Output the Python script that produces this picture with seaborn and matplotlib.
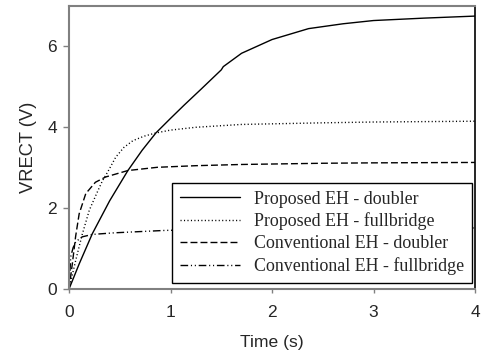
import pandas as pd
import matplotlib
matplotlib.use("Agg")
import matplotlib.pyplot as plt
import seaborn as sns

# Series labels (legend order)
labels = [
    "Proposed EH - doubler",
    "Proposed EH - fullbridge",
    "Conventional EH - doubler",
    "Conventional EH - fullbridge",
]

# Values (time in s, voltage in V)
t_prop_dbl = [0, 0.1, 0.23, 0.4, 0.58, 0.72, 0.856, 1.0, 1.135, 1.3, 1.5, 1.52, 1.7, 2.0, 2.36, 2.7, 3.0, 3.5, 4.0]
v_prop_dbl = [0, 0.62, 1.37, 2.18, 2.93, 3.43, 3.86, 4.22, 4.55, 4.94, 5.42, 5.5, 5.83, 6.17, 6.44, 6.56, 6.64, 6.7, 6.75]

t_prop_fb = [0, 0.066, 0.13, 0.2, 0.27, 0.33, 0.38, 0.46, 0.54, 0.63, 0.74, 0.856, 1.0, 1.25, 1.7, 2.5, 3.0, 4.0]
v_prop_fb = [0, 0.71, 1.35, 1.95, 2.35, 2.68, 2.89, 3.26, 3.5, 3.67, 3.78, 3.86, 3.93, 4.0, 4.07, 4.11, 4.13, 4.15]

t_conv_dbl = [0, 0.033, 0.065, 0.1, 0.165, 0.26, 0.36, 0.58, 0.87, 1.25, 1.7, 2.5, 3.0, 4.0]
v_conv_dbl = [0, 0.63, 1.3, 1.86, 2.36, 2.64, 2.77, 2.93, 3.01, 3.05, 3.08, 3.11, 3.12, 3.13]

t_conv_fb = [0, 0.017, 0.04, 0.066, 0.13, 0.23, 0.45, 0.7, 0.955, 1.5, 2.0, 3.0, 4.0]
v_conv_fb = [0, 0.8, 1.02, 1.17, 1.29, 1.35, 1.39, 1.42, 1.45, 1.47, 1.48, 1.5, 1.51]

frames = []
for name, t, v in zip(labels,
                      [t_prop_dbl, t_prop_fb, t_conv_dbl, t_conv_fb],
                      [v_prop_dbl, v_prop_fb, v_conv_dbl, v_conv_fb]):
    frames.append(pd.DataFrame({"time": t, "vrect": v, "series": name}))
df = pd.concat(frames, ignore_index=True)

dashes = {
    labels[0]: "",
    labels[1]: (0.8, 1.7),
    labels[2]: (5, 2.2),
    labels[3]: (5.5, 2, 0.8, 2, 0.8, 2),
}

sns.set_style("ticks")
plt.rcParams["font.family"] = ["Liberation Sans", "DejaVu Sans"]

fig = plt.figure(figsize=(4.82, 3.56), dpi=100)
ax = fig.add_axes([0.1432, 0.1882, 0.8423, 0.795])

sns.lineplot(data=df, x="time", y="vrect", style="series", style_order=labels,
             dashes=dashes, color="black", linewidth=1.0, estimator=None,
             sort=False, ax=ax)

ax.set_xlim(0, 4)
ax.set_ylim(0, 7)
ax.set_xticks([0, 1, 2, 3, 4])
ax.set_yticks([0, 2, 4, 6])
ax.set_xlabel("Time (s)", fontsize=12.6, labelpad=10.5)
ax.set_ylabel("VRECT (V)", fontsize=13.2, labelpad=7.5)
ax.tick_params(labelsize=12.5, width=1, color="#808080", direction="out")
ax.tick_params(axis="x", length=3, pad=8.5)
ax.tick_params(axis="y", length=4.3, pad=4.3)

for side in ["left", "bottom", "top"]:
    ax.spines[side].set_color("#808080")
    ax.spines[side].set_linewidth(1.5)
ax.spines["right"].set_visible(True)
ax.spines["right"].set_color("black")
ax.spines["right"].set_linewidth(1.2)
ax.spines["top"].set_visible(True)

handles, lbls = ax.get_legend_handles_labels()
leg = ax.legend(handles, lbls, loc="lower right", bbox_to_anchor=(0.993, 0.021),
                borderaxespad=0, prop={"family": "Liberation Serif", "size": 12.9},
                handlelength=3.35, handletextpad=0.8, labelspacing=0.27,
                borderpad=0.45, fancybox=False, framealpha=1, edgecolor="black")
leg.get_frame().set_linewidth(1.0)

fig.savefig("out.png", dpi=100)
plt.close(fig)
